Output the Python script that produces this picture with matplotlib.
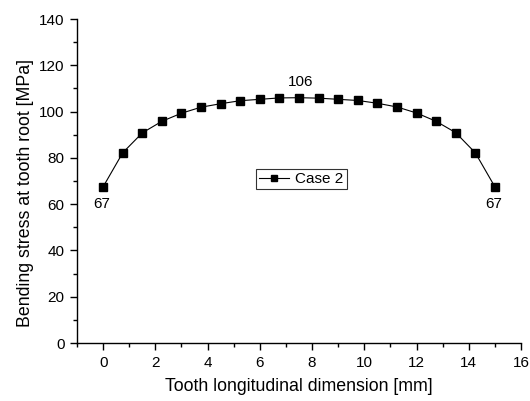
import matplotlib
matplotlib.use("Agg")
import matplotlib.pyplot as plt
import matplotlib.ticker as ticker

# ── Data ──────────────────────────────────────────────────────────────────────
position_mm = [0.0, 0.75, 1.5, 2.25, 3.0, 3.75, 4.5, 5.25, 6.0, 6.75, 7.5,
               8.25, 9.0, 9.75, 10.5, 11.25, 12.0, 12.75, 13.5, 14.25, 15.0]
stress_mpa = [67.5, 82.2, 90.8, 95.8, 99.3, 101.9, 103.4, 104.7, 105.3, 105.9, 106.0,
              105.8, 105.3, 104.8, 103.6, 102.0, 99.4, 95.8, 90.9, 82.2, 67.5]
series_label = "Case 2"
annot_idx = [0, 10, 20]
annot_text = ["67", "106", "67"]

plt.rcParams.update({
    "font.family": ["Liberation Sans", "DejaVu Sans"],
    "font.size": 11,
    "axes.linewidth": 1.0,
    "xtick.direction": "out",
    "ytick.direction": "out",
})

fig = plt.figure(figsize=(5.30, 4.01), dpi=100)
ax = fig.add_axes([0.1453, 0.1446, 0.9830 - 0.1453, 0.9526 - 0.1446])

ax.plot(position_mm, stress_mpa, color="black", linewidth=0.8,
        marker="s", markersize=5.2, label=series_label)

# value annotations
for i, txt in zip(annot_idx, annot_text):
    if i == 10:
        ax.annotate(txt, (position_mm[i], stress_mpa[i]), xytext=(1.5, 6),
                    textcoords="offset points", ha="center", va="bottom")
    else:
        ax.annotate(txt, (position_mm[i], stress_mpa[i]), xytext=(-1, -7),
                    textcoords="offset points", ha="center", va="top")

ax.set_xlim(-1, 16)
ax.set_ylim(0, 140)
ax.xaxis.set_major_locator(ticker.MultipleLocator(2))
ax.xaxis.set_minor_locator(ticker.MultipleLocator(1))
ax.yaxis.set_major_locator(ticker.MultipleLocator(20))
ax.yaxis.set_minor_locator(ticker.MultipleLocator(10))
ax.tick_params(which="major", length=5, width=1.0, pad=4)
ax.tick_params(which="minor", length=3, width=1.0)
ax.spines["top"].set_visible(False)
ax.spines["right"].set_visible(False)

ax.set_xlabel("Tooth longitudinal dimension [mm]", fontsize=12.8)
ax.set_ylabel("Bending stress at tooth root [MPa]", fontsize=12.8)
ax.xaxis.set_label_coords(0.5, -0.108)
ax.yaxis.set_label_coords(-0.097, 0.4645)

leg = ax.legend(loc="center", bbox_to_anchor=(0.505, 0.506), frameon=True,
                fancybox=False, edgecolor="black", handlelength=2.0,
                handletextpad=0.4, borderpad=0.2, markerscale=0.75)
leg.get_frame().set_linewidth(0.8)

fig.savefig("out.png", dpi=100)
